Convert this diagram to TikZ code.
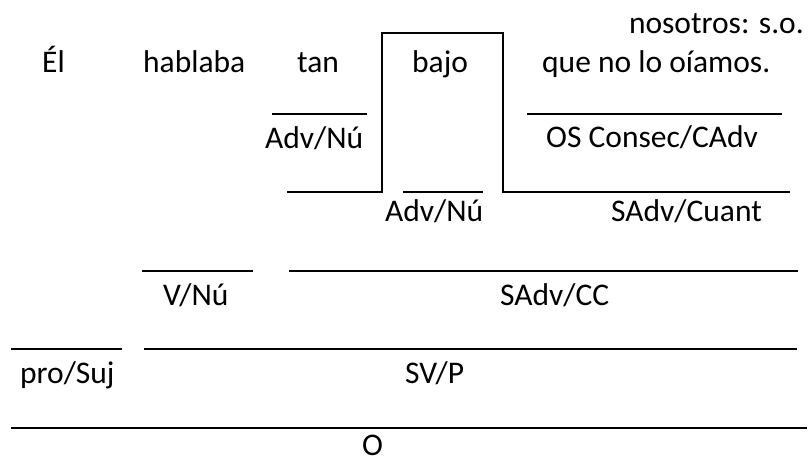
\documentclass[tikz,border=0pt]{standalone}
\usepackage{fontspec}
\setmainfont{Carlito}
\begin{document}
\begin{tikzpicture}[x=1pt,y=-1pt,
  lbl/.style={anchor=base west,inner sep=0pt,font=\fontsize{31.5}{36}\selectfont},
  lblr/.style={anchor=base east,inner sep=0pt,font=\fontsize{31.5}{36}\selectfont},
  rule/.style={line width=1.3pt},
  boxline/.style={line width=1.1pt}]
\useasboundingbox (0,0) rectangle (811,463);
% words
\node[lblr] (so) at (804,33) {nosotros: s.o.};
\node[lbl] (el) at (42,72) {Él};
\node[lbl] (hab) at (143,72) {hablaba};
\node[lbl] (tan) at (297,72) {tan};
\node[lbl] (bajo) at (412,72) {bajo};
\node[lbl] (que) at (542,72) {que no lo oíamos.};
% labels
\node[lbl] (advnu1) at (265,148) {Adv/Nú};
\node[lbl] (os) at (546,147) {OS Consec/CAdv};
\node[lbl] (advnu2) at (385,221) {Adv/Nú};
\node[lbl] (cuant) at (611,221) {SAdv/Cuant};
\node[lbl] (vnu) at (163,305) {V/Nú};
\node[lbl] (cc) at (500,305) {SAdv/CC};
\node[lbl] (suj) at (20,383) {pro/Suj};
\node[lbl] (svp) at (405,383) {SV/P};
\node[lbl] (o) at (362,455) {O};
% rules
\draw[rule] (272,114) -- (367,114);
\draw[rule] (527,114) -- (782,114);
\draw[boxline] (287,192) -- (382,192) -- (382,33) -- (503,33) -- (503,192) -- (790,192);
\draw[rule] (403,192) -- (483,192);
\draw[rule] (142,271) -- (253,271);
\draw[rule] (289,271) -- (798,271);
\draw[rule] (11,349) -- (122,349);
\draw[rule] (144,349) -- (797,349);
\draw[rule] (11,428) -- (807,428);
\end{tikzpicture}
\end{document}
